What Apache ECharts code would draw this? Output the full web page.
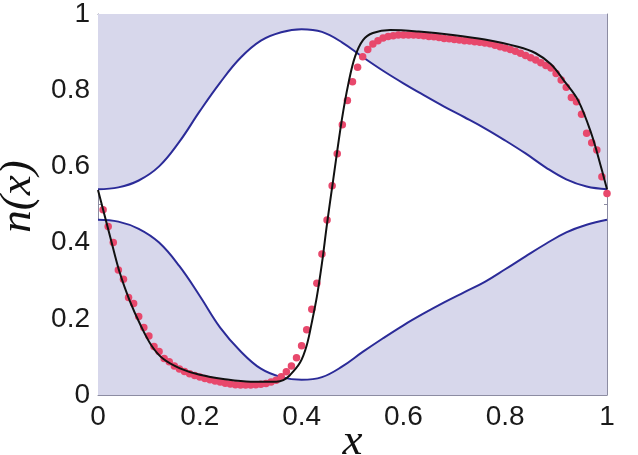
<!DOCTYPE html>
<html>
<head>
<meta charset="utf-8">
<script src="https://cdn.jsdelivr.net/npm/echarts@6/dist/echarts.min.js"></script>
<style>
  html, body { margin: 0; padding: 0; background: #fff; }
  #chart { width: 638px; height: 455px; }
</style>
</head>
<body>
<div id="chart"></div>
<script>
// bounds of the allowed region (the white band between the two blue curves)
const boundX = [0, 0.04, 0.08, 0.12, 0.16, 0.2, 0.24, 0.28, 0.32, 0.36, 0.4, 0.44, 0.48,
   0.52, 0.56, 0.6, 0.64, 0.68, 0.72, 0.76, 0.8, 0.84, 0.88, 0.92, 0.96, 1];
const upperBound = [0.54, 0.545, 0.563, 0.6, 0.665, 0.745, 0.82, 0.885, 0.93, 0.952, 0.96, 0.953,
   0.925, 0.887, 0.851, 0.818, 0.787, 0.757, 0.729, 0.7, 0.668, 0.634, 0.597, 0.566, 0.547, 0.54];
const lowerBound = [0.46, 0.455, 0.436, 0.4, 0.338, 0.26, 0.177, 0.115, 0.069, 0.047, 0.04, 0.047,
   0.075, 0.113, 0.149, 0.183, 0.214, 0.243, 0.27, 0.297, 0.33, 0.364, 0.397, 0.427, 0.447, 0.46];

// theory curve (black)
const theoryX = [0, 0.024, 0.043, 0.063, 0.083, 0.105, 0.128, 0.161, 0.2, 0.246, 0.3, 0.35,
   0.364, 0.377, 0.397, 0.41, 0.42, 0.43, 0.44, 0.45, 0.462, 0.479, 0.492, 0.505, 0.521,
   0.54, 0.574, 0.63, 0.697, 0.76, 0.825, 0.86, 0.89, 0.915, 0.943, 0.969, 0.988, 1];
const theoryY = [0.538, 0.415, 0.32, 0.245, 0.185, 0.13, 0.095, 0.07, 0.053, 0.042, 0.035, 0.035,
   0.039, 0.052, 0.085, 0.13, 0.19, 0.258, 0.346, 0.45, 0.564, 0.722, 0.818, 0.888, 0.932,
   0.95, 0.958, 0.954, 0.945, 0.933, 0.914, 0.897, 0.868, 0.826, 0.774, 0.687, 0.6, 0.54];

// simulation points (red), sampled at x = 0.01, 0.02, ..., 1.00
const dotStep = 0.01;
const dotY = [
   0.486, 0.442, 0.400, 0.328, 0.304, 0.256, 0.240, 0.206, 0.177, 0.155,
   0.127, 0.114, 0.096, 0.087, 0.076, 0.068, 0.062, 0.056, 0.051, 0.047,
   0.043, 0.040, 0.037, 0.034, 0.031, 0.029, 0.027, 0.026, 0.026, 0.026,
   0.027, 0.028, 0.030, 0.034, 0.039, 0.048, 0.061, 0.076, 0.098, 0.129,
   0.171, 0.225, 0.293, 0.370, 0.459, 0.549, 0.633, 0.709, 0.773, 0.822,
   0.860, 0.888, 0.907, 0.921, 0.930, 0.937, 0.941, 0.943, 0.945, 0.945,
   0.945, 0.945, 0.944, 0.943, 0.941, 0.940, 0.938, 0.936, 0.935, 0.933,
   0.932, 0.930, 0.929, 0.927, 0.926, 0.924, 0.922, 0.918, 0.914, 0.911,
   0.907, 0.902, 0.897, 0.891, 0.885, 0.879, 0.872, 0.865, 0.858, 0.844,
   0.827, 0.808, 0.781, 0.770, 0.737, 0.687, 0.662, 0.643, 0.573, 0.529];

const tickValues = [0, 0.2, 0.4, 0.6, 0.8, 1];

const frameColor = "#8c8ca2";
const shade = "#d7d7eb";
const blue = "#2b2b98";
const red = "#e8486c";

const zip = (xs, ys) => xs.map((x, i) => [x, ys[i]]);
const dots = dotY.map((y, i) => [Number(((i + 1) * dotStep).toFixed(2)), y]);

function makeAxis(pos, showLabel, name, nameGap) {
   return {
      type: "value",
      position: pos,
      min: tickValues[0],
      max: tickValues[tickValues.length - 1],
      interval: 0.2,
      name: name,
      nameLocation: "middle",
      nameGap: nameGap,
      nameMoveOverlap: pos !== "bottom",
      nameRotate: pos === "left" ? 90 : 0,
      nameTextStyle: {
         fontFamily: "Liberation Serif",
         fontStyle: "italic",
         fontSize: 45,
         color: "#111",
         padding: pos === "left" ? [0, 0, 0, 16] : 0,
      },
      axisLine: { show: true, onZero: false, lineStyle: { color: frameColor, width: 1 } },
      axisTick: { show: true, inside: true, length: 5, lineStyle: { color: frameColor } },
      minorTick: { show: true, splitNumber: 4, length: 3, lineStyle: { color: frameColor } },
      splitLine: { show: false },
      axisLabel: {
         show: showLabel,
         fontFamily: "Liberation Sans",
         fontSize: 28,
         color: "#1a1a1a",
         margin: 8,
      },
   };
}

const chart = echarts.init(document.getElementById("chart"), null, { renderer: "canvas" });

chart.setOption({
   animation: false,
   grid: { left: 98, top: 14, right: 31, bottom: 60, outerBoundsMode: "none", containLabel: false },
   xAxis: [makeAxis("bottom", true, "x", 25), makeAxis("top", false, "", 0)],
   yAxis: [makeAxis("left", true, "n(x)", 46), makeAxis("right", false, "", 0)],
   series: [
      {
         type: "line",
         data: zip(boundX, upperBound),
         smooth: 0.4,
         symbol: "none",
         lineStyle: { color: blue, width: 2 },
         areaStyle: { color: shade, opacity: 1, origin: "end" },
         z: 1,
      },
      {
         type: "line",
         data: zip(boundX, lowerBound),
         smooth: 0.4,
         symbol: "none",
         lineStyle: { color: blue, width: 2 },
         areaStyle: { color: shade, opacity: 1, origin: "start" },
         z: 1,
      },
      {
         type: "scatter",
         data: dots,
         symbolSize: 7.5,
         itemStyle: { color: red, opacity: 1 },
         z: 3,
      },
      {
         type: "line",
         data: zip(theoryX, theoryY),
         smooth: 0.35,
         symbol: "none",
         lineStyle: { color: "#111", width: 2 },
         z: 4,
      },
   ],
});
</script>
</body>
</html>
